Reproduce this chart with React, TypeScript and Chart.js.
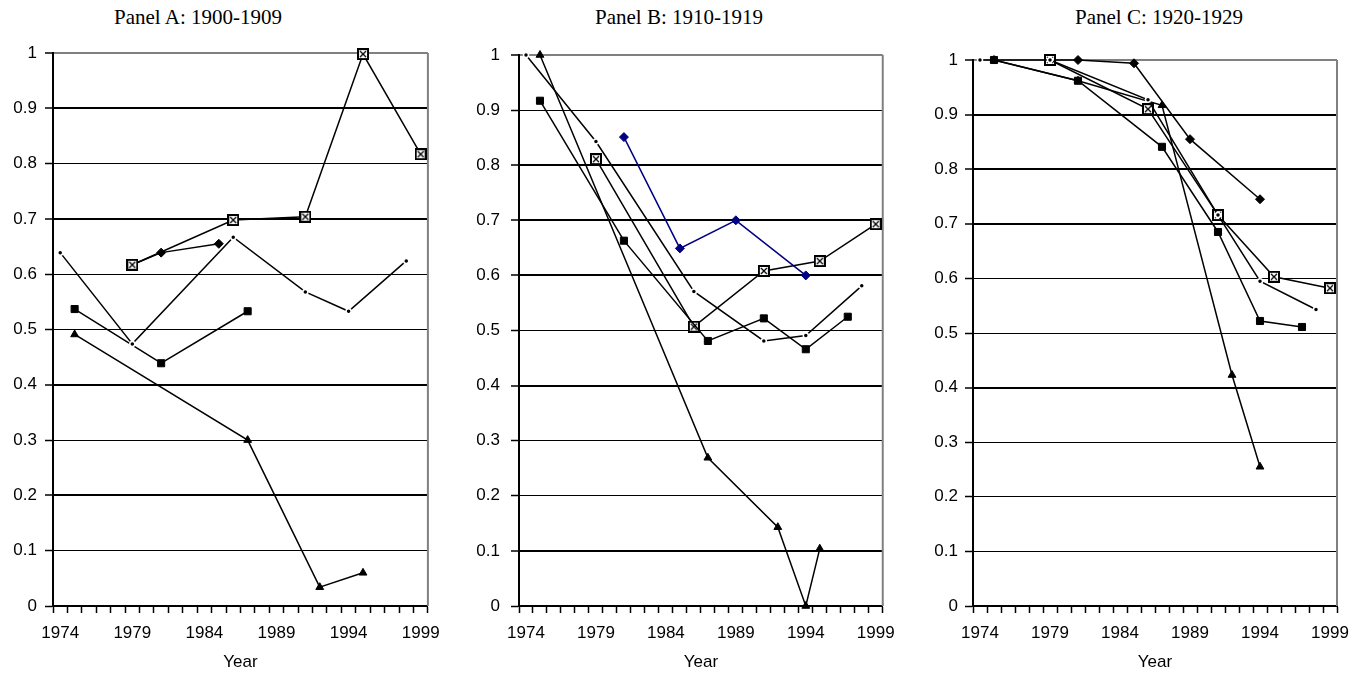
import React, { useEffect, useRef } from 'react';
import { Chart, registerables } from 'chart.js';

Chart.register(...registerables);

// ---------- Shared axis data ----------
const years = [
  '1974', '1975', '1976', '1977', '1978', '1979', '1980', '1981', '1982', '1983',
  '1984', '1985', '1986', '1987', '1988', '1989', '1990', '1991', '1992', '1993',
  '1994', '1995', '1996', '1997', '1998', '1999',
];
const yTickLabels = ['0', '0.1', '0.2', '0.3', '0.4', '0.5', '0.6', '0.7', '0.8', '0.9', '1'];
const xAxisTitle = 'Year';

// ---------- Panel A: 1900-1909 ----------
const aDotYears = [1974, 1979, 1986, 1991, 1994, 1998];
const aDotValues = [0.639, 0.474, 0.667, 0.568, 0.533, 0.624];
const aSquareYears = [1975, 1981, 1987];
const aSquareValues = [0.537, 0.439, 0.533];
const aTriangleYears = [1975, 1987, 1992, 1995];
const aTriangleValues = [0.491, 0.3, 0.034, 0.06];
const aDiamondYears = [1979, 1981, 1985];
const aDiamondValues = [0.617, 0.639, 0.655];
const aBoxYears = [1979, 1986, 1991, 1995, 1999];
const aBoxValues = [0.617, 0.698, 0.704, 0.998, 0.817];

// ---------- Panel B: 1910-1919 ----------
const bDotYears = [1974, 1979, 1986, 1991, 1994, 1998];
const bDotValues = [1.0, 0.843, 0.571, 0.481, 0.491, 0.581];
const bSquareYears = [1975, 1981, 1987, 1991, 1994, 1997];
const bSquareValues = [0.917, 0.663, 0.481, 0.522, 0.466, 0.525];
const bTriangleYears = [1975, 1987, 1992, 1994, 1995];
const bTriangleValues = [1.0, 0.269, 0.143, 0.0, 0.104];
const bDiamondYears = [1981, 1985, 1989, 1994];
const bDiamondValues = [0.851, 0.649, 0.7, 0.6];
const bBoxYears = [1979, 1986, 1991, 1995, 1999];
const bBoxValues = [0.811, 0.507, 0.608, 0.626, 0.693];

// ---------- Panel C: 1920-1929 ----------
const cDotYears = [1974, 1979, 1986, 1991, 1994, 1998];
const cDotValues = [1.0, 1.0, 0.927, 0.716, 0.595, 0.543];
const cSquareYears = [1975, 1981, 1987, 1991, 1994, 1997];
const cSquareValues = [1.0, 0.962, 0.841, 0.685, 0.522, 0.511];
const cTriangleYears = [1975, 1981, 1987, 1992, 1994];
const cTriangleValues = [1.0, 0.962, 0.917, 0.423, 0.255];
const cDiamondYears = [1979, 1981, 1985, 1989, 1994];
const cDiamondValues = [1.0, 1.0, 0.994, 0.855, 0.745];
const cBoxYears = [1979, 1986, 1991, 1995, 1999];
const cBoxValues = [1.0, 0.91, 0.716, 0.603, 0.582];

type SeriesSet = {
  dots: [number[], number[]];
  squares: [number[], number[]];
  triangles: [number[], number[]];
  diamonds: [number[], number[]];
  boxes: [number[], number[]];
};

type PanelCfg = {
  title: string;
  titleCenter: number;
  left: number;
  width: number;
  yAxisWidth: number;
  padTop: number;
  padRight: number;
  labelPad: number;
  heavy: number[];
  diamondColor: string;
  series: SeriesSet;
};

const panels: PanelCfg[] = [
  {
    title: 'Panel A: 1900-1909',
    titleCenter: 198,
    left: 0,
    width: 450,
    yAxisWidth: 53,
    padTop: 53,
    padRight: 21,
    labelPad: 8,
    heavy: [2, 4, 7, 9],
    diamondColor: '#000000',
    series: {
      dots: [aDotYears, aDotValues],
      squares: [aSquareYears, aSquareValues],
      triangles: [aTriangleYears, aTriangleValues],
      diamonds: [aDiamondYears, aDiamondValues],
      boxes: [aBoxYears, aBoxValues],
    },
  },
  {
    title: 'Panel B: 1910-1919',
    titleCenter: 679,
    left: 455,
    width: 450,
    yAxisWidth: 64,
    padTop: 55,
    padRight: 18,
    labelPad: 11,
    heavy: [1, 4, 6, 7, 8],
    diamondColor: '#000080',
    series: {
      dots: [bDotYears, bDotValues],
      squares: [bSquareYears, bSquareValues],
      triangles: [bTriangleYears, bTriangleValues],
      diamonds: [bDiamondYears, bDiamondValues],
      boxes: [bBoxYears, bBoxValues],
    },
  },
  {
    title: 'Panel C: 1920-1929',
    titleCenter: 1159,
    left: 910,
    width: 452,
    yAxisWidth: 63,
    padTop: 60,
    padRight: 25,
    labelPad: 7,
    heavy: [4, 7, 8, 9],
    diamondColor: '#000000',
    series: {
      dots: [cDotYears, cDotValues],
      squares: [cSquareYears, cSquareValues],
      triangles: [cTriangleYears, cTriangleValues],
      diamonds: [cDiamondYears, cDiamondValues],
      boxes: [cBoxYears, cBoxValues],
    },
  },
];

const CANVAS_H = 677;
const X_AXIS_H = 71;
const FONT = '"Liberation Sans", Arial, sans-serif';

function toPoints(ys: number[], vs: number[]) {
  return ys.map((y, i) => ({ x: String(y), y: vs[i] }));
}

function makeBoxMarker(): HTMLCanvasElement {
  const s = 12;
  const c = document.createElement('canvas');
  c.width = s;
  c.height = s;
  const g = c.getContext('2d')!;
  g.fillStyle = '#ffffff';
  g.fillRect(0, 0, s, s);
  g.strokeStyle = '#000000';
  g.lineWidth = 2;
  g.strokeRect(1, 1, s - 2, s - 2);
  g.lineWidth = 1.3;
  g.beginPath();
  g.moveTo(3, 3);
  g.lineTo(s - 3, s - 3);
  g.moveTo(s - 3, 3);
  g.lineTo(3, s - 3);
  g.stroke();
  return c;
}

const framePlugin = {
  id: 'frameRight',
  beforeDatasetsDraw(chart: any) {
    const { ctx, chartArea } = chart;
    ctx.save();
    ctx.strokeStyle = '#808080';
    ctx.lineWidth = 2;
    ctx.beginPath();
    ctx.moveTo(chartArea.right, chartArea.top);
    ctx.lineTo(chartArea.right, chartArea.bottom);
    ctx.stroke();
    ctx.restore();
  },
};

function Panel({ cfg }: { cfg: PanelCfg }) {
  const ref = useRef<HTMLCanvasElement | null>(null);

  useEffect(() => {
    if (!ref.current) return;
    const box = makeBoxMarker();
    const line = { borderColor: '#000000', borderWidth: 1.5, fill: false, tension: 0, clip: false as any };
    const s = cfg.series;
    const chart = new Chart(ref.current, {
      type: 'line',
      data: {
        labels: years,
        datasets: [
          {
            ...line,
            label: 'dots',
            data: toPoints(s.dots[0], s.dots[1]),
            pointStyle: 'circle',
            pointRadius: 2.5,
            pointBackgroundColor: '#000000',
            pointBorderColor: '#ffffff',
            pointBorderWidth: 1.5,
          },
          {
            ...line,
            label: 'squares',
            data: toPoints(s.squares[0], s.squares[1]),
            pointStyle: 'rect',
            pointRadius: 5,
            pointBackgroundColor: '#000000',
            pointBorderColor: '#000000',
            pointBorderWidth: 1,
          },
          {
            ...line,
            label: 'boxes',
            data: toPoints(s.boxes[0], s.boxes[1]),
            pointStyle: box as any,
            pointRadius: 6,
          },
          {
            ...line,
            label: 'diamonds',
            borderColor: cfg.diamondColor,
            data: toPoints(s.diamonds[0], s.diamonds[1]),
            pointStyle: 'rectRot',
            pointRadius: 4.5,
            pointBackgroundColor: cfg.diamondColor,
            pointBorderColor: cfg.diamondColor,
            pointBorderWidth: 1,
          },
          {
            ...line,
            label: 'triangles',
            data: toPoints(s.triangles[0], s.triangles[1]),
            pointStyle: 'triangle',
            pointRadius: 4.5,
            pointBackgroundColor: '#000000',
            pointBorderColor: '#000000',
            pointBorderWidth: 1,
          },
        ],
      },
      options: {
        responsive: false,
        animation: false,
        events: [],
        layout: { padding: { left: 0, top: cfg.padTop, right: cfg.padRight, bottom: 0 } },
        plugins: {
          legend: { display: false },
          tooltip: { enabled: false },
          title: { display: false },
        },
        scales: {
          x: {
            type: 'category',
            offset: true,
            afterFit: (scale: any) => {
              scale.height = X_AXIS_H;
            },
            grid: {
              offset: true,
              drawOnChartArea: false,
              drawTicks: true,
              tickLength: 7,
              tickColor: '#000000',
              tickWidth: 1.5,
              color: '#000000',
            },
            border: { display: true, color: '#000000', width: 2 },
            ticks: {
              autoSkip: false,
              maxRotation: 0,
              minRotation: 0,
              padding: 10,
              color: '#000000',
              font: { family: FONT, size: 17 },
              callback: (_v: any, i: number) => (i % 5 === 0 ? years[i] : ''),
            },
            title: {
              display: true,
              text: xAxisTitle,
              color: '#000000',
              font: { family: FONT, size: 17 },
              padding: { top: 0, bottom: 4 },
            },
          },
          y: {
            min: 0,
            max: 1,
            afterFit: (scale: any) => {
              scale.width = cfg.yAxisWidth;
            },
            grid: {
              drawTicks: true,
              tickLength: 8,
              tickColor: '#000000',
              tickWidth: 1.5,
              color: (ctx: any) => (Math.abs(ctx.tick.value - 1) < 1e-6 ? '#808080' : '#000000'),
              lineWidth: (ctx: any) => {
                const k = Math.round(ctx.tick.value * 10);
                if (k === 10) return 2;
                return cfg.heavy.includes(k) ? 2 : 1;
              },
            },
            border: { display: true, color: '#000000', width: 2 },
            ticks: {
              stepSize: 0.1,
              autoSkip: false,
              padding: cfg.labelPad,
              color: '#000000',
              font: { family: FONT, size: 17 },
              callback: (_v: any, i: number) => yTickLabels[i],
            },
          },
        },
      },
      plugins: [framePlugin],
    });
    return () => chart.destroy();
  }, [cfg]);

  return (
    <>
      <div
        style={{
          position: 'absolute',
          left: cfg.titleCenter,
          top: 7,
          transform: 'translateX(-50%)',
          fontFamily: '"Liberation Serif", "Times New Roman", serif',
          fontSize: 21,
          lineHeight: '21px',
          whiteSpace: 'nowrap',
          color: '#000',
        }}
      >
        {cfg.title}
      </div>
      <canvas
        ref={ref}
        width={cfg.width}
        height={CANVAS_H}
        style={{ position: 'absolute', left: cfg.left, top: 0, width: cfg.width, height: CANVAS_H }}
      />
    </>
  );
}

export default function App() {
  return (
    <div
      style={{
        position: 'absolute',
        left: 0,
        top: 0,
        width: 1362,
        height: 677,
        background: '#ffffff',
        overflow: 'hidden',
      }}
    >
      {panels.map((p) => (
        <Panel key={p.title} cfg={p} />
      ))}
    </div>
  );
}
